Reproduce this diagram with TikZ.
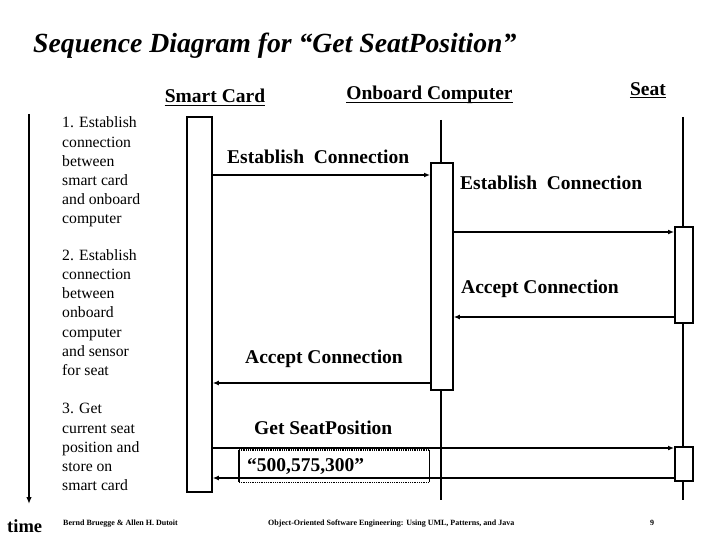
\documentclass[tikz,border=0pt]{standalone}
\usepackage{fontspec}
\setmainfont{Liberation Serif}
\usetikzlibrary{arrows.meta}
\begin{document}
\begin{tikzpicture}[x=1pt,y=-1pt,
  lifeline/.style={line width=1.8pt},
  actbox/.style={draw, line width=1.8pt, fill=white, inner sep=0pt, anchor=north west},
  msg/.style={line width=1.8pt, -{Latex[length=6pt,width=5pt]}},
  msglabel/.style={font=\fontsize{19.5}{22}\selectfont\bfseries, inner sep=0pt, anchor=base west},
  objlabel/.style={font=\fontsize{19.5}{22}\selectfont\bfseries, inner sep=0pt, anchor=base},
  uline/.style={line width=1.8pt},
  note/.style={font=\fontsize{15.7}{19.2}\selectfont, align=left, inner sep=0pt, anchor=north west},
  foot/.style={font=\fontsize{8}{9}\selectfont\bfseries, inner sep=0pt, anchor=base west},
]
\useasboundingbox[fill=white] (0,0) rectangle (720,540);

% title
\node[anchor=base west, inner sep=0pt, font=\fontsize{27.7}{30}\selectfont\bfseries\itshape] (title) at (33,53) {Sequence Diagram for “Get SeatPosition”};

% object labels
\node[objlabel] (sclabel) at (215,103) {Smart Card};
\node[objlabel] (oblabel) at (429.5,99.5) {Onboard Computer};
\node[objlabel] (stlabel) at (648,95.5) {Seat};
\draw[uline] ([yshift=-2.5pt]sclabel.base west) -- ([yshift=-2.5pt]sclabel.base east);
\draw[uline] ([yshift=-3pt]oblabel.base west) -- ([yshift=-3pt]oblabel.base east);
\draw[uline] ([yshift=-2pt]stlabel.base west) -- ([yshift=-2pt]stlabel.base east);

% lifelines
\coordinate (obtop) at (441,120);
\coordinate (obbot) at (441,500);
\coordinate (sttop) at (683,117);
\coordinate (stbot) at (683,500);
\draw[lifeline] (obtop) -- (obbot);
\draw[lifeline] (sttop) -- (stbot);

% activation boxes
\node[actbox, minimum width=25pt, minimum height=375pt] (scbox) at (186,116) {};
\node[actbox, minimum width=22pt, minimum height=227pt] (obbox) at (430,162) {};
\node[actbox, minimum width=18pt, minimum height=96pt] (stbox1) at (674,226) {};
\node[actbox, minimum width=18pt, minimum height=34pt] (stbox2) at (674,446) {};

% message heights
\path (0,175) coordinate (m1) (0,232) coordinate (m2) (0,317) coordinate (m3)
      (0,383) coordinate (m4) (0,448) coordinate (m5) (0,478) coordinate (m6);

% return value box
\node[inner sep=0pt, minimum width=190pt, minimum height=32pt, anchor=north west] (retbox) at (239,450) {};
\draw[line width=1.5pt] (retbox.north west) -- (retbox.south west);
\draw[line width=1.5pt] (retbox.north east) -- (retbox.south east);
\draw[line width=1.5pt, dash pattern=on 0.9pt off 0.9pt] (retbox.north west) -- (retbox.north east);
\draw[line width=1.5pt, dash pattern=on 0.9pt off 0.9pt] (retbox.south west) -- (retbox.south east);

% messages
\draw[msg] (scbox.east |- m1) -- (obbox.west |- m1);
\draw[msg] (obbox.east |- m2) -- (stbox1.west |- m2);
\draw[msg] (stbox1.west |- m3) -- (obbox.east |- m3);
\draw[msg] (obbox.west |- m4) -- (scbox.east |- m4);
\draw[msg] (scbox.east |- m5) -- (stbox2.west |- m5);
\draw[msg] (stbox2.west |- m6) -- (scbox.east |- m6);

% message labels
\node[msglabel] (l1) at (227,164) {Establish~~Connection};
\node[msglabel] (l2) at (460,190) {Establish~~Connection};
\node[msglabel] (l3) at (461,293) {Accept Connection};
\node[msglabel] (l4) at (245,363) {Accept Connection};
\node[msglabel] (l5) at (254,434) {Get SeatPosition};
\node[msglabel] (l6) at (247,471.5) {“500,575,300”};

% time axis
\coordinate (tstart) at (29,114);
\coordinate (tend) at (29,504);
\draw[line width=1.8pt, -{Latex[length=7pt,width=5.5pt]}] (tstart) -- (tend);
\node[anchor=base west, inner sep=0pt, font=\fontsize{18.5}{20}\selectfont\bfseries] (time) at (7,532) {time};

% notes
\node[note] (note1) at (62,116.8) {1. Establish\\connection\\between\\smart card\\and onboard\\computer};
\node[note] (note2) at (62,249.3) {2. Establish\\connection\\between\\onboard\\computer\\and  sensor\\for seat};
\node[note] (note3) at (62,403.3) {3. Get\\current seat\\position and\\store on\\smart card};

% footer
\node[foot] (f1) at (63,525) {Bernd Bruegge \& Allen H. Dutoit};
\node[foot] (f2) at (268,525) {Object-Oriented Software Engineering: Using UML, Patterns, and Java};
\node[foot] (f3) at (650,525) {9};
\end{tikzpicture}
\end{document}
